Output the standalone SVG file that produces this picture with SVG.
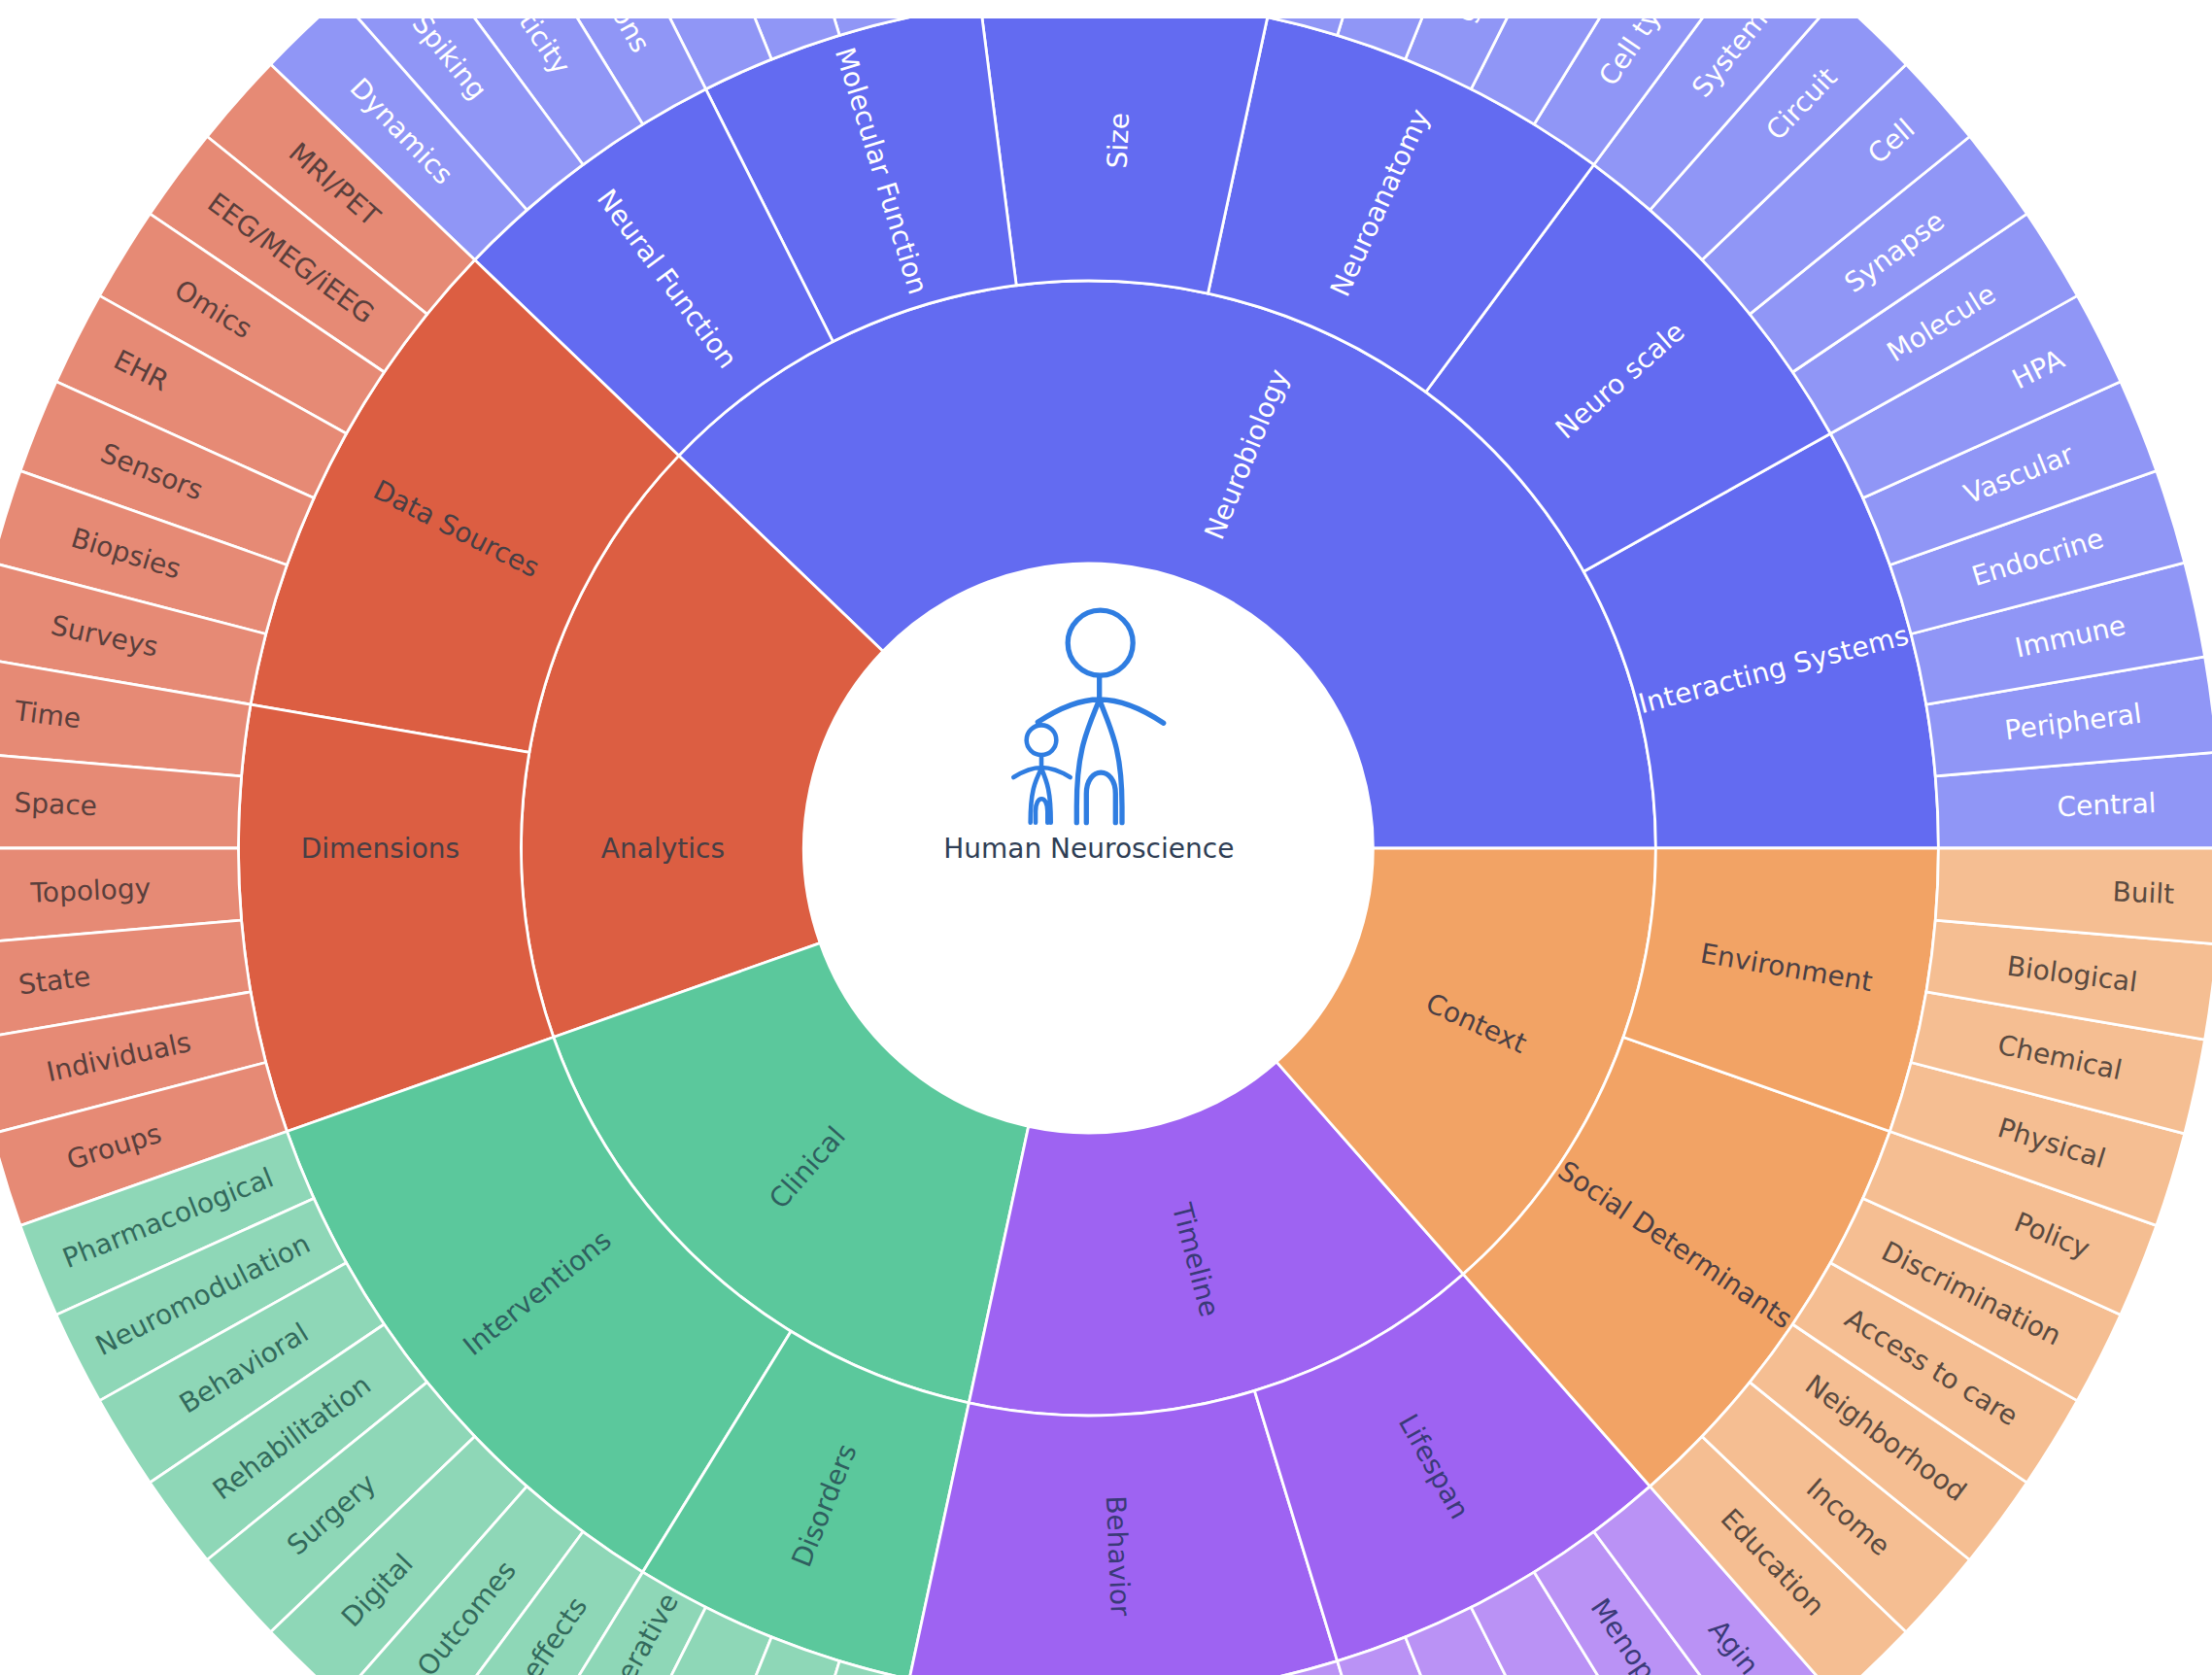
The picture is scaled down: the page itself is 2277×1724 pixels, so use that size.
<svg xmlns="http://www.w3.org/2000/svg" width="2277" height="1724" viewBox="0 0 2277 1724">
<style>
text{font-family:"DejaVu Sans","Liberation Sans",sans-serif;font-size:28px;text-anchor:middle;dominant-baseline:central}
.s{stroke:#fff;stroke-width:2.8;stroke-linejoin:round}
.e{text-anchor:end}.b{text-anchor:start}
.wide{letter-spacing:.3px}
.blue use{fill:#636bf1}.blue.l use{fill:#9096f6}.blue text{fill:#fff}
.red use{fill:#dc5e42}.red.l use{fill:#e68a75}.red text{fill:#473f45}.red.l text{fill:#5a3f3c}
.green use{fill:#5bc89c}.green.l use{fill:#8ed7b7}.green text{fill:#2f5f5f}.green.l text{fill:#336a5c}
.purple use{fill:#9e63f2}.purple.l use{fill:#ba92f5}.purple text{fill:#3a3a78}
.orange use{fill:#f2a365}.orange.l use{fill:#f5be92}.orange text{fill:#4a3f45}.orange.l text{fill:#5a4a40}
.icon{fill:none;stroke:#2f7de1;stroke-linecap:round}
</style>
<defs>
<path id="L" class="s" d="M875 0H1166A1166 1166 0 0 0 1161.8 -98.9L871.85 -74.2A875 875 0 0 1 875 0Z"/>
<path id="M4" class="s" d="M584 0H875A875 875 0 0 0 825 -291.5L550.6 -194.6A584 584 0 0 1 584 0Z"/>
<path id="M5" class="s" d="M584 0H875A875 875 0 0 0 797.3 -360.4L532.2 -240.5A584 584 0 0 1 584 0Z"/>
<path id="M6" class="s" d="M584 0H875A875 875 0 0 0 763.9 -426.7L509.8 -284.8A584 584 0 0 1 584 0Z"/>
<path id="M7" class="s" d="M584 0H875A875 875 0 0 0 724.9 -490L483.8 -327A584 584 0 0 1 584 0Z"/>
<path id="M8" class="s" d="M584 0H875A875 875 0 0 0 680.9 -549.6L454.4 -366.8A584 584 0 0 1 584 0Z"/>
<path id="I28" class="s" d="M293 0H584A584 584 0 0 0 -421.7 -404L-211.6 -202.7A293 293 0 0 1 293 0Z"/>
<path id="I13" class="s" d="M293 0H584A584 584 0 0 0 262.9 -521.5L131.9 -261.6A293 293 0 0 1 293 0Z"/>
<path id="I12" class="s" d="M293 0H584A584 584 0 0 0 306.2 -497.3L153.6 -249.5A293 293 0 0 1 293 0Z"/>
<path id="I11" class="s" d="M293 0H584A584 584 0 0 0 347.3 -469.5L174.2 -235.6A293 293 0 0 1 293 0Z"/>
<path id="I10" class="s" d="M293 0H584A584 584 0 0 0 385.9 -438.3L193.6 -219.9A293 293 0 0 1 293 0Z"/>
</defs>
<rect width="2277" height="1724" fill="#fff"/>
<g transform="translate(1120.4 873)">
<g id="neurobiology" class="blue"><use href="#I28"/><text transform="rotate(-68.1) translate(437 0)">Neurobiology</text></g>
<g id="analytics" class="red"><use href="#I13" transform="rotate(-136.216)"/><text x="-438" y="0">Analytics</text></g>
<g id="clinical" class="green"><use href="#I12" transform="rotate(-199.459)"/><text transform="rotate(-48.65) translate(-438 0)">Clinical</text></g>
<g id="timeline" class="purple"><use href="#I11" transform="rotate(-257.838)"/><text transform="rotate(75.4) translate(438 0)">Timeline</text></g>
<g id="context" class="orange"><use href="#I10" transform="rotate(-311.351)"/><text transform="rotate(24.3) translate(438 0)">Context</text></g>

<g id="interacting-systems" class="blue"><use href="#M6"/><text class="wide" transform="rotate(-14.6) translate(729 0)">Interacting Systems</text></g>
<g id="neuro-scale" class="blue"><use href="#M5" transform="rotate(-29.189)"/><text transform="rotate(-41.35) translate(729 0)">Neuro scale</text></g>
<g id="neuroanatomy" class="blue"><use href="#M5" transform="rotate(-53.514)"/><text transform="rotate(-65.68) translate(729 0)">Neuroanatomy</text></g>
<g id="size" class="blue"><use href="#M4" transform="rotate(-77.838)"/><text transform="rotate(-87.57) translate(729 0)">Size</text></g>
<g id="molecular-function" class="blue"><use href="#M4" transform="rotate(-97.297)"/><text transform="rotate(73) translate(-729 0)">Molecular Function</text></g>
<g id="neural-function" class="blue"><use href="#M4" transform="rotate(-116.757)"/><text transform="rotate(53.5) translate(-729 0)">Neural Function</text></g>
<g id="data-sources" class="red"><use href="#M7" transform="rotate(-136.216)"/><text transform="rotate(26.8) translate(-729 0)">Data Sources</text></g>
<g id="dimensions" class="red"><use href="#M6" transform="rotate(-170.27)"/><text x="-729" y="0">Dimensions</text></g>
<g id="interventions" class="green"><use href="#M8" transform="rotate(-199.459)"/><text transform="rotate(-38.9) translate(-729 0)">Interventions</text></g>
<g id="disorders" class="green"><use href="#M4" transform="rotate(-238.378)"/><text transform="rotate(-68.1) translate(-729 0)">Disorders</text></g>
<g id="behavior" class="purple"><use href="#M6" transform="rotate(-257.838)"/><text transform="rotate(87.6) translate(729 0)">Behavior</text></g>
<g id="lifespan" class="purple"><use href="#M5" transform="rotate(-287.027)"/><text transform="rotate(60.8) translate(729 0)">Lifespan</text></g>
<g id="social-determinants" class="orange"><use href="#M6" transform="rotate(-311.351)"/><text transform="rotate(34.05) translate(729 0)">Social Determinants</text></g>
<g id="environment" class="orange"><use href="#M4" transform="rotate(-340.541)"/><text transform="rotate(9.7) translate(729 0)">Environment</text></g>

<g id="central" class="blue l"><use href="#L"/><text transform="rotate(-2.43) translate(1049 0)">Central</text></g>
<g id="peripheral" class="blue l"><use href="#L" transform="rotate(-4.865)"/><text transform="rotate(-7.3) translate(1022 0)">Peripheral</text></g>
<g id="immune" class="blue l"><use href="#L" transform="rotate(-9.73)"/><text transform="rotate(-12.16) translate(1034 0)">Immune</text></g>
<g id="endocrine" class="blue l"><use href="#L" transform="rotate(-14.595)"/><text transform="rotate(-17.03) translate(1022 0)">Endocrine</text></g>
<g id="vascular" class="blue l"><use href="#L" transform="rotate(-19.459)"/><text transform="rotate(-21.89) translate(1032 0)">Vascular</text></g>
<g id="hpa" class="blue l"><use href="#L" transform="rotate(-24.324)"/><text transform="rotate(-26.76) translate(1095 0)">HPA</text></g>
<g id="molecule" class="blue l"><use href="#L" transform="rotate(-29.189)"/><text transform="rotate(-31.62) translate(1031 0)">Molecule</text></g>
<g id="synapse" class="blue l"><use href="#L" transform="rotate(-34.054)"/><text transform="rotate(-36.49) translate(1032 0)">Synapse</text></g>
<g id="cell" class="blue l"><use href="#L" transform="rotate(-38.919)"/><text transform="rotate(-41.35) translate(1101 0)">Cell</text></g>
<g id="circuit" class="blue l"><use href="#L" transform="rotate(-43.784)"/><text transform="rotate(-46.22) translate(1061 0)">Circuit</text></g>
<g id="system" class="blue l"><use href="#L" transform="rotate(-48.649)"/><text transform="rotate(-51.08) translate(1051 0)">System</text></g>
<g id="cell-types" class="blue l"><use href="#L" transform="rotate(-53.514)"/><text class="b" transform="rotate(-55.95) translate(951 0)">Cell ty</text></g>
<g id="leaf-12" class="blue l"><use href="#L" transform="rotate(-58.378)"/></g>
<g id="leaf-13" class="blue l"><use href="#L" transform="rotate(-63.243)"/><text transform="rotate(-65.68) translate(944 0)">g</text></g>
<g id="leaf-14" class="blue l"><use href="#L" transform="rotate(-68.108)"/></g>
<g id="leaf-15" class="blue l"><use href="#L" transform="rotate(-72.973)"/></g>
<g id="leaf-16" class="blue l"><use href="#L" transform="rotate(-77.838)"/></g>
<g id="leaf-17" class="blue l"><use href="#L" transform="rotate(-82.703)"/></g>
<g id="leaf-18" class="blue l"><use href="#L" transform="rotate(-87.568)"/></g>
<g id="leaf-19" class="blue l"><use href="#L" transform="rotate(-92.432)"/></g>
<g id="leaf-20" class="blue l"><use href="#L" transform="rotate(-97.297)"/></g>
<g id="leaf-21" class="blue l"><use href="#L" transform="rotate(-102.162)"/></g>
<g id="leaf-22" class="blue l"><use href="#L" transform="rotate(-107.027)"/></g>
<g id="leaf-23" class="blue l"><use href="#L" transform="rotate(-111.892)"/></g>
<g id="leaf-ons" class="blue l"><use href="#L" transform="rotate(-116.757)"/><text class="e" transform="rotate(60.8) translate(-941 0)">ons</text></g>
<g id="leaf-ticity" class="blue l"><use href="#L" transform="rotate(-121.622)"/><text class="e" transform="rotate(55.95) translate(-965 0)">ticity</text></g>
<g id="spiking" class="blue l"><use href="#L" transform="rotate(-126.486)"/><text transform="rotate(51.08) translate(-1047 0)">Spiking</text></g>
<g id="dynamics" class="blue l"><use href="#L" transform="rotate(-131.351)"/><text transform="rotate(46.22) translate(-1022 0)">Dynamics</text></g>

<g id="mri-pet" class="red l"><use href="#L" transform="rotate(-136.216)"/><text transform="rotate(41.35) translate(-1034 0)">MRI/PET</text></g>
<g id="eeg" class="red l"><use href="#L" transform="rotate(-141.081)"/><text transform="rotate(36.49) translate(-1021 0)">EEG/MEG/iEEG</text></g>
<g id="omics" class="red l"><use href="#L" transform="rotate(-145.946)"/><text transform="rotate(31.62) translate(-1058 0)">Omics</text></g>
<g id="ehr" class="red l"><use href="#L" transform="rotate(-150.811)"/><text transform="rotate(26.76) translate(-1092 0)">EHR</text></g>
<g id="sensors" class="red l"><use href="#L" transform="rotate(-155.676)"/><text transform="rotate(21.89) translate(-1039 0)">Sensors</text></g>
<g id="biopsies" class="red l"><use href="#L" transform="rotate(-160.541)"/><text transform="rotate(17.03) translate(-1036 0)">Biopsies</text></g>
<g id="surveys" class="red l"><use href="#L" transform="rotate(-165.405)"/><text transform="rotate(12.16) translate(-1036 0)">Surveys</text></g>
<g id="time" class="red l"><use href="#L" transform="rotate(-170.27)"/><text transform="rotate(7.3) translate(-1080 0)">Time</text></g>
<g id="space" class="red l"><use href="#L" transform="rotate(-175.135)"/><text transform="rotate(2.43) translate(-1064 0)">Space</text></g>
<g id="topology" class="red l"><use href="#L" transform="rotate(-180)"/><text transform="rotate(-2.43) translate(-1028 0)">Topology</text></g>
<g id="state" class="red l"><use href="#L" transform="rotate(-184.865)"/><text transform="rotate(-7.3) translate(-1073 0)">State</text></g>
<g id="individuals" class="red l"><use href="#L" transform="rotate(-189.73)"/><text transform="rotate(-12.16) translate(-1021 0)">Individuals</text></g>
<g id="groups" class="red l"><use href="#L" transform="rotate(-194.595)"/><text transform="rotate(-17.03) translate(-1049 0)">Groups</text></g>

<g id="pharmacological" class="green l"><use href="#L" transform="rotate(-199.459)"/><text transform="rotate(-21.89) translate(-1021 0)">Pharmacological</text></g>
<g id="neuromodulation" class="green l"><use href="#L" transform="rotate(-204.324)"/><text transform="rotate(-26.76) translate(-1021 0)">Neuromodulation</text></g>
<g id="behavioral" class="green l"><use href="#L" transform="rotate(-209.189)"/><text transform="rotate(-31.62) translate(-1021 0)">Behavioral</text></g>
<g id="rehabilitation" class="green l"><use href="#L" transform="rotate(-214.054)"/><text transform="rotate(-36.49) translate(-1020 0)">Rehabilitation</text></g>
<g id="surgery" class="green l"><use href="#L" transform="rotate(-218.919)"/><text transform="rotate(-41.35) translate(-1038 0)">Surgery</text></g>
<g id="digital" class="green l"><use href="#L" transform="rotate(-223.784)"/><text transform="rotate(-46.22) translate(-1058 0)">Digital</text></g>
<g id="outcomes" class="green l"><use href="#L" transform="rotate(-228.649)"/><text transform="rotate(-51.08) translate(-1019 0)">Outcomes</text></g>
<g id="effects" class="green l"><use href="#L" transform="rotate(-233.514)"/><text class="e" transform="rotate(-55.95) translate(-934 0)">effects</text></g>
<g id="erative" class="green l"><use href="#L" transform="rotate(-238.378)"/><text class="e" transform="rotate(-60.8) translate(-881 0)">erative</text></g>
<g id="leaf-50" class="green l"><use href="#L" transform="rotate(-243.243)"/></g>
<g id="leaf-51" class="green l"><use href="#L" transform="rotate(-248.108)"/></g>
<g id="leaf-52" class="green l"><use href="#L" transform="rotate(-252.973)"/></g>

<g id="leaf-53" class="purple l"><use href="#L" transform="rotate(-257.838)"/></g>
<g id="leaf-54" class="purple l"><use href="#L" transform="rotate(-262.703)"/></g>
<g id="leaf-55" class="purple l"><use href="#L" transform="rotate(-267.568)"/></g>
<g id="leaf-56" class="purple l"><use href="#L" transform="rotate(-272.432)"/></g>
<g id="leaf-57" class="purple l"><use href="#L" transform="rotate(-277.297)"/></g>
<g id="leaf-58" class="purple l"><use href="#L" transform="rotate(-282.162)"/></g>
<g id="leaf-59" class="purple l"><use href="#L" transform="rotate(-287.027)"/></g>
<g id="leaf-60" class="purple l"><use href="#L" transform="rotate(-291.892)"/></g>
<g id="leaf-61" class="purple l"><use href="#L" transform="rotate(-296.757)"/></g>
<g id="menop" class="purple l"><use href="#L" transform="rotate(-301.622)"/><text class="b" transform="rotate(55.95) translate(936 0)">Menop</text></g>
<g id="aging" class="purple l"><use href="#L" transform="rotate(-306.486)"/><text class="b" transform="rotate(51.08) translate(1026 0)">Agin</text></g>

<g id="education" class="orange l"><use href="#L" transform="rotate(-311.351)"/><text transform="rotate(46.22) translate(1018 0)">Education</text></g>
<g id="income" class="orange l"><use href="#L" transform="rotate(-316.216)"/><text transform="rotate(41.35) translate(1042 0)">Income</text></g>
<g id="neighborhood" class="orange l"><use href="#L" transform="rotate(-321.081)"/><text transform="rotate(36.49) translate(1021 0)">Neighborhood</text></g>
<g id="access" class="orange l"><use href="#L" transform="rotate(-325.946)"/><text transform="rotate(31.62) translate(1019 0)">Access to care</text></g>
<g id="discrimination" class="orange l"><use href="#L" transform="rotate(-330.811)"/><text transform="rotate(26.76) translate(1018 0)">Discrimination</text></g>
<g id="policy" class="orange l"><use href="#L" transform="rotate(-335.676)"/><text transform="rotate(21.89) translate(1069 0)">Policy</text></g>
<g id="physical" class="orange l"><use href="#L" transform="rotate(-340.541)"/><text transform="rotate(17.03) translate(1037 0)">Physical</text></g>
<g id="chemical" class="orange l"><use href="#L" transform="rotate(-345.405)"/><text transform="rotate(12.16) translate(1023 0)">Chemical</text></g>
<g id="biological" class="orange l"><use href="#L" transform="rotate(-350.27)"/><text transform="rotate(7.3) translate(1021 0)">Biological</text></g>
<g id="built" class="orange l"><use href="#L" transform="rotate(-355.135)"/><text transform="rotate(2.43) translate(1087 0)">Built</text></g>
</g>
<rect width="2277" height="19" fill="#fff"/>
<g id="human-neuroscience">
<g class="icon" stroke-width="5.3">
<circle cx="1132.7" cy="661.7" r="33.5"/>
<path d="M1131.7 697V720M1068.3 743.3C1090 729 1110 720 1131.7 720C1153 720 1175 729 1197.7 744.3M1131.7 720C1120 750 1108.3 770 1108.3 830V846.7M1131.7 720C1143 750 1155 770 1155 830V846.7M1118.3 846.7V817C1118.3 787.7 1148.3 787.7 1148.3 817V846.7"/>
</g>
<g class="icon" stroke-width="4.6">
<circle cx="1072" cy="761.7" r="15.3"/>
<path d="M1072 778V790M1043.3 800C1053 794 1062 790 1072 790C1082 790 1092 794 1101.7 800M1072 791C1065 805 1060.7 815 1060.7 846.7M1072 791C1078 805 1081.7 815 1081.7 846.7M1066 846.7V835C1066 818 1078.3 818 1078.3 835V846.7"/>
</g>
<text x="1120.8" y="873" fill="#2f3e55">Human Neuroscience</text>
</g>
</svg>
